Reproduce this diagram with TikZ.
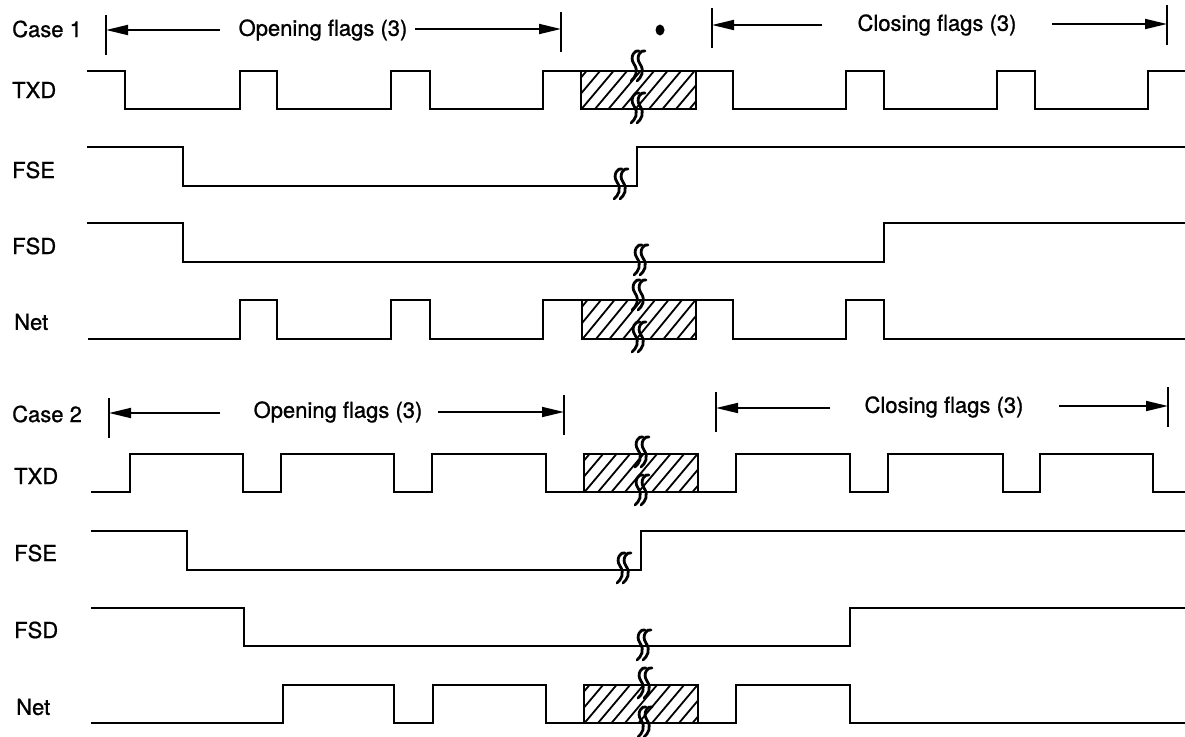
\documentclass[tikz,border=0pt]{standalone}
\usepackage{fontspec}
\setmainfont{TeX Gyre Heros}
\newfontface\lblfont{TeX Gyre Heros}[FakeBold=0.9]
\usetikzlibrary{arrows.meta}
\tikzset{
  wave/.style={line width=2.4pt, line join=miter},
  boxline/.style={line width=2.4pt},
  hatchline/.style={line width=1.8pt},
  dimline/.style={line width=1.8pt, -{Triangle[length=22pt,width=10pt]}},
  tickline/.style={line width=1.8pt},
  lbl/.style={inner sep=0pt, anchor=west, font=\lblfont\fontsize{22}{26}\selectfont},
  dimtxt/.style={inner sep=0pt, font=\lblfont\fontsize{22}{26}\selectfont},
  brkline/.style={line width=2.8pt, line cap=round},
  brk/.pic={
    \draw[brkline] (2,-15) .. controls (-2,-17) and (-8,-9) .. (-3,-2) .. controls (2,5) and (-2,12) .. (-6,15);
    \draw[brkline] (8,-15) .. controls (4,-17) and (-2,-9) .. (3,-2) .. controls (8,5) and (4,12) .. (0,15);
  }
}
\newcommand{\hatchbox}[4]{% x1 y1 x2 y2
  \begin{scope}
    \clip (#1,#2) rectangle (#3,#4);
    \foreach \i in {0,...,12}{
      \draw[hatchline] ({#1-40+\i*13.5},#4) -- ++(32,{#2-#4});
    }
  \end{scope}
  \draw[boxline] (#1,#2) rectangle (#3,#4);
}
\begin{document}
\begin{tikzpicture}[x=1pt,y=-1pt]
\useasboundingbox[fill=white] (0,0) rectangle (1185,736);

% ================= CASE 1 =================
\node[lbl] (case1) at (12,29) {Case 1};
\node[lbl] (txd1) at (12,90) {TXD};
\node[lbl] (fse1) at (12,170) {FSE};
\node[lbl] (fsd1) at (12,246) {FSD};
\node[lbl] (net1) at (14,322) {Net};

% dimension: opening flags
\coordinate (o1a) at (106,30); \coordinate (o1b) at (561,29);
\draw[tickline] (106,15) -- (106,55);
\draw[tickline] (561,12) -- (561,52);
\node[dimtxt] (open1) at (323,30) {Opening flags (3)};
\coordinate (o1l) at (220,30); \coordinate (o1r) at (415,29);
\draw[dimline] (o1l) -- (o1a);
\draw[dimline] (o1r) -- (o1b);
\fill (660,30) ellipse (4.5 and 5.5);
% dimension: closing flags
\coordinate (c1a) at (712,25); \coordinate (c1b) at (1167,24);
\draw[tickline] (712,8) -- (712,48);
\draw[tickline] (1167,5) -- (1167,45);
\node[dimtxt] (close1) at (937,25) {Closing flags (3)};
\coordinate (c1l) at (822,25); \coordinate (c1r) at (1052,24);
\draw[dimline] (c1l) -- (c1a);
\draw[dimline] (c1r) -- (c1b);

% TXD case 1 (H=71, L=109)
\draw[wave] (87,71) -- (125,71) -- (125,109) -- (240,109) -- (240,71) -- (277,71) -- (277,109)
  -- (391,109) -- (391,71) -- (430,71) -- (430,109) -- (543,109) -- (543,71) -- (581,71);
\hatchbox{581}{71}{696}{109}
\draw[wave] (696,71) -- (733,71) -- (733,109) -- (846,109) -- (846,71) -- (884,71) -- (884,109)
  -- (997,109) -- (997,71) -- (1035,71) -- (1035,109) -- (1148,109) -- (1148,71) -- (1185,71);
\pic at (637,66) {brk};
\pic at (637,108) {brk};

% FSE case 1 (H=147, L=186)
\draw[wave] (87,147) -- (183,147) -- (183,186) -- (637,186) -- (637,147) -- (1185,147);
\pic at (620,184) {brk};

% FSD case 1 (H=223, L=262)
\draw[wave] (87,223) -- (183,223) -- (183,262) -- (884,262) -- (884,223) -- (1185,223);
\pic at (640,260) {brk};

% Net case 1 (H=300, L=339)
\draw[wave] (88,339) -- (240,339) -- (240,300) -- (277,300) -- (277,339) -- (391,339) -- (391,300)
  -- (430,300) -- (430,339) -- (543,339) -- (543,300) -- (582,300);
\hatchbox{582}{300}{696}{339}
\draw[wave] (696,300) -- (733,300) -- (733,339) -- (846,339) -- (846,300) -- (884,300) -- (884,339) -- (1185,339);
\pic at (638,295) {brk};
\pic at (638,337) {brk};

% ================= CASE 2 =================
\node[lbl] (case2) at (12,414) {Case 2};
\node[lbl] (txd2) at (14,476) {TXD};
\node[lbl] (fse2) at (14,553) {FSE};
\node[lbl] (fsd2) at (14,630) {FSD};
\node[lbl] (net2) at (16,707) {Net};

% dimension: opening flags
\coordinate (o2a) at (109,413); \coordinate (o2b) at (564,412);
\draw[tickline] (109,398) -- (109,438);
\draw[tickline] (564,395) -- (564,435);
\node[dimtxt] (open2) at (338,412) {Opening flags (3)};
\coordinate (o2l) at (220,413); \coordinate (o2r) at (438,412);
\draw[dimline] (o2l) -- (o2a);
\draw[dimline] (o2r) -- (o2b);
% dimension: closing flags
\coordinate (c2a) at (716,408); \coordinate (c2b) at (1168,406);
\draw[tickline] (716,392) -- (716,432);
\draw[tickline] (1168,387) -- (1168,427);
\node[dimtxt] (close2) at (944,407) {Closing flags (3)};
\coordinate (c2l) at (830,408); \coordinate (c2r) at (1059,406);
\draw[dimline] (c2l) -- (c2a);
\draw[dimline] (c2r) -- (c2b);

% TXD case 2 (H=454, L=492)
\draw[wave] (91,492) -- (130,492) -- (130,454) -- (243,454) -- (243,492) -- (281,492) -- (281,454)
  -- (394,454) -- (394,492) -- (432,492) -- (432,454) -- (546,454) -- (546,492) -- (584,492);
\hatchbox{584}{454}{698}{492}
\draw[wave] (698,492) -- (736,492) -- (736,454) -- (850,454) -- (850,492) -- (888,492) -- (888,454)
  -- (1003,454) -- (1003,492) -- (1040,492) -- (1040,454) -- (1153,454) -- (1153,492) -- (1185,492);
\pic at (641,452) {brk};
\pic at (641,490) {brk};

% FSE case 2 (H=531, L=570)
\draw[wave] (91,531) -- (187,531) -- (187,570) -- (641,570) -- (641,531) -- (1185,531);
\pic at (623,568) {brk};

% FSD case 2 (H=608, L=646)
\draw[wave] (91,608) -- (244,608) -- (244,646) -- (850,646) -- (850,608) -- (1185,608);
\pic at (643,645) {brk};

% Net case 2 (H=685, L=723)
\draw[wave] (91,723) -- (283,723) -- (283,685) -- (394,685) -- (394,723) -- (433,723) -- (433,685)
  -- (546,685) -- (546,723) -- (584,723);
\hatchbox{584}{685}{698}{723}
\draw[wave] (698,723) -- (736,723) -- (736,685) -- (850,685) -- (850,723) -- (1185,723);
\pic at (644,683) {brk};
\pic at (644,722) {brk};

\end{tikzpicture}
\end{document}
